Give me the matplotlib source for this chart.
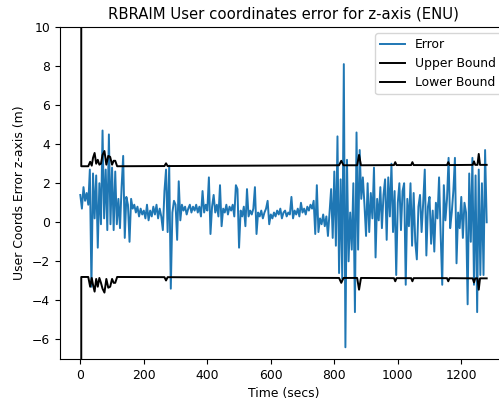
import numpy as np
import matplotlib
matplotlib.use("Agg")
import matplotlib.pyplot as plt

time = np.arange(0, 1281, 5)
error = [
    # 0 - 95
    1.4, 0.7, 1.8, 1.1, 1.5, 0.9, 2.7, -3.3, 2.5, 0.2,
    2.4, -1.3, 2.0, -0.1, 4.7, 0.2, 2.7, -0.4, 4.5, -0.1,
    # 100 - 195
    2.8, -0.4, 2.6, -0.1, 1.2, -0.3, 1.8, 3.4, -0.8, 1.3,
    0.9, -1.0, 1.2, 0.7, 0.9, 0.5, 0.8, 0.3, 0.7, 0.4,
    # 200 - 295
    0.6, 0.2, 0.9, 0.1, 0.6, 0.3, 0.8, 0.4, 0.9, 0.2,
    0.7, 0.3, -0.4, 1.6, 2.7, -0.5, 2.9, -3.4, 0.5, 1.1,
    # 300 - 395
    0.9, -0.9, 2.1, 0.1, 0.9, 0.6, 0.8, 0.4, 0.7, 0.9,
    0.5, 0.8, 0.6, 0.9, 0.5, 0.8, 0.3, 1.6, 0.5, 0.9,
    # 400 - 495
    0.6, 2.3, -0.6, 0.8, 1.4, 0.5, 0.9, 0.3, 1.9, -0.2,
    0.7, 0.5, 0.9, 0.4, 0.8, 0.6, 0.9, 0.3, 1.9, 1.7,
    # 500 - 595
    -1.3, 0.6, 0.3, 0.8, -0.2, 1.7, 0.3, 0.6, 0.4, 0.7,
    1.8, -0.6, 0.5, 0.3, 0.6, 0.2, 0.5, 0.7, 1.1, -0.1,
    # 600 - 695
    0.4, 0.2, 0.5, 0.3, 0.6, 0.4, 0.7, 0.2, 0.5, 0.6,
    0.3, 0.5, 0.4, 1.3, 0.2, 0.6, 0.4, 0.7, 0.3, 1.0,
    # 700 - 795
    0.5, 0.7, 0.4, 0.8, 0.6, 0.9, 0.7, 1.1, -0.6, 1.9,
    -0.5, 0.2, -0.1, 0.4, -0.2, 0.3, -0.7, 0.5, 1.7, -0.8,
    # 800 - 895
    2.6, -1.2, 4.4, -2.6, 2.2, -2.9, 8.1, -6.4, 3.2, -2.0,
    0.5, -1.4, 2.0, -4.6, 4.6, -1.4, 3.7, 1.2, 2.3, 0.9,
    # 900 - 995
    -0.7, 2.0, -0.5, 1.5, 0.2, 2.8, -1.8, 1.2, 0.1, 1.8,
    -0.3, 1.4, 2.2, -0.9, 2.3, 0.3, 3.0, -0.5, 1.6, -2.7,
    # 1000 - 1095
    1.0, 2.0, -0.4, 1.6, 2.0, -3.2, 1.2, -0.2, 2.0, -1.2,
    1.5, -1.0, -1.9, 0.8, 1.4, -0.5, 1.0, 2.7, -1.7, 0.8,
    # 1100 - 1195
    1.3, -1.1, 0.6, -1.5, 1.0, 0.2, 2.3, -0.6, -3.2, 1.9,
    0.1, 1.2, 3.3, -0.3, 0.5, 1.6, 3.3, -2.1, 0.5, -0.3,
    # 1200 - 1280
    1.3, -0.8, 1.0, 0.5, -4.2, 2.5, -1.0, 3.3, -3.2, 2.4,
    -4.6, 2.7, -2.7, 2.0, -2.7, 3.7, 0.0,
]

# protection level bounds, given at the points where they change
bound_time = [0, 3, 25, 31, 36, 40, 45, 50, 55, 60, 65, 70, 76, 82, 88, 94,
              100, 105, 110, 116, 265, 270, 275, 815, 822, 829, 872, 878,
              884, 988, 992, 996, 1042, 1046, 1050, 1155, 1159, 1163, 1236,
              1240, 1244, 1251, 1255, 1259, 1280]
upper_bound = [500, 2.87, 2.87, 3.1, 2.9, 3.3, 3.55, 3.0, 3.2, 2.95, 3.0,
               3.45, 3.65, 2.95, 3.4, 3.35, 2.95, 3.15, 3.15, 2.87, 2.88,
               3.02, 2.88, 2.92, 3.15, 2.92, 2.92, 3.45, 2.92, 2.93, 3.08,
               2.93, 2.93, 3.08, 2.93, 2.93, 3.08, 2.93, 2.94, 3.12, 2.94,
               2.94, 3.5, 2.94, 2.94]
lower_bound = [-500, -2.8, -2.8, -3.3, -2.85, -3.2, -3.55, -2.9, -3.3,
               -2.85, -3.1, -3.4, -3.6, -2.9, -3.35, -3.3, -2.9, -3.1, -3.1,
               -2.8, -2.81, -2.98, -2.81, -2.85, -3.1, -2.85, -2.85, -3.45,
               -2.85, -2.86, -3.02, -2.86, -2.86, -3.02, -2.86, -2.86, -3.02,
               -2.86, -2.87, -3.08, -2.87, -2.87, -3.45, -2.87, -2.87]

# reference looks like a shrunk default figure, so scale text down a bit
plt.rcParams["font.size"] = 8.9
plt.rcParams["lines.linewidth"] = 1.4

fig = plt.figure(figsize=(4.99, 4.04), dpi=100)
ax = fig.add_axes([60 / 499, 45 / 404, 447 / 499, 332 / 404])

ax.plot(time, error, label="Error")
ax.plot(bound_time, upper_bound, color="k", label="Upper Bound")
ax.plot(bound_time, lower_bound, color="k", label="Lower Bound")

ax.set_xlim(-64, 1344)
ax.set_ylim(-7, 10)
ax.set_xlabel("Time (secs)")
ax.set_ylabel("User Coords Error z-axis (m)")
ax.set_title("RBRAIM User coordinates error for z-axis (ENU)")
ax.legend(loc="upper right")

fig.savefig("out.png", dpi=100)
